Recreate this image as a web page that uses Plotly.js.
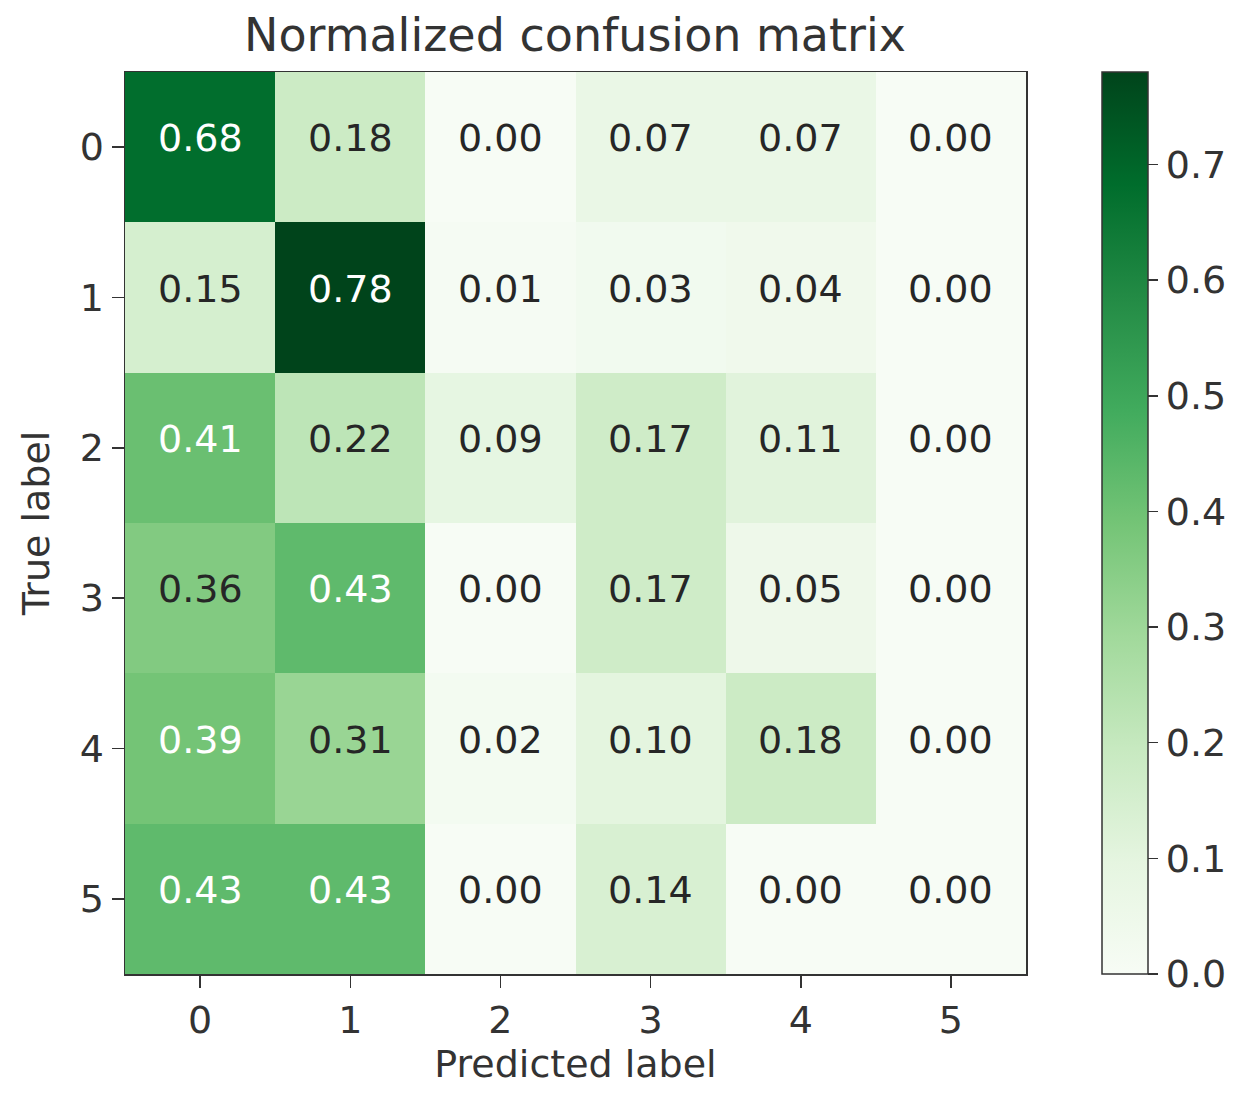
<!DOCTYPE html>
<html>
<head>
<meta charset="utf-8">
<script src="https://cdn.plot.ly/plotly-3.0.1.min.js"></script>
<style>html,body{margin:0;padding:0;background:#fff;}#chart{width:1249px;height:1095px;}</style>
</head>
<body>
<div id="chart"></div>
<script>
const predictedLabels = [0, 1, 2, 3, 4, 5];
const trueLabels = [0, 1, 2, 3, 4, 5];
const row0 = [0.68, 0.18, 0.00, 0.07, 0.07, 0.00];
const row1 = [0.15, 0.78, 0.01, 0.03, 0.04, 0.00];
const row2 = [0.41, 0.22, 0.09, 0.17, 0.11, 0.00];
const row3 = [0.36, 0.43, 0.00, 0.17, 0.05, 0.00];
const row4 = [0.39, 0.31, 0.02, 0.10, 0.18, 0.00];
const row5 = [0.43, 0.43, 0.00, 0.14, 0.00, 0.00];
const matrix = [row0, row1, row2, row3, row4, row5];
const colorbarTicks = [0.0, 0.1, 0.2, 0.3, 0.4, 0.5, 0.6, 0.7];

const greens = [
  [0.000, '#f7fcf5'], [0.125, '#e5f5e0'], [0.250, '#c7e9c0'],
  [0.375, '#a1d99b'], [0.500, '#74c476'], [0.625, '#41ab5d'],
  [0.750, '#238b45'], [0.875, '#006d2c'], [1.000, '#00441b']
];

const zmax = Math.max(...matrix.flat());

const annotations = [];
matrix.forEach((row, i) => {
  row.forEach((v, j) => {
    annotations.push({
      x: predictedLabels[j], y: trueLabels[i], xref: 'x', yref: 'y',
      text: v.toFixed(2), showarrow: false, yshift: 9,
      font: {family: 'DejaVu Sans', size: 38, color: v > 0.385 ? '#ffffff' : '#262626'}
    });
  });
});

const trace = {
  type: 'heatmap',
  x: predictedLabels, y: trueLabels, z: matrix,
  colorscale: greens, zmin: 0, zmax: zmax,
  hoverinfo: 'skip',
  colorbar: {
    x: (1102 - 125) / 901, xanchor: 'left', xpad: 0,
    y: 0.5, yanchor: 'middle', ypad: 0, len: 1, lenmode: 'fraction',
    thickness: 46, thicknessmode: 'pixels',
    outlinewidth: 1.5, outlinecolor: '#333',
    tickmode: 'array', tickvals: colorbarTicks,
    ticktext: colorbarTicks.map(t => t.toFixed(1)),
    ticks: 'outside', ticklen: 10, tickwidth: 1.5, tickcolor: '#333',
    tickfont: {family: 'DejaVu Sans', size: 38, color: '#333'}
  }
};

const layout = {
  width: 1249, height: 1095,
  margin: {l: 125, r: 223, t: 72, b: 121},
  paper_bgcolor: '#fff', plot_bgcolor: '#fff',
  title: {
    text: 'Normalized confusion matrix',
    font: {family: 'DejaVu Sans', size: 46, color: '#333'},
    x: 575 / 1249, xanchor: 'center', y: 1 - 35 / 1095, yanchor: 'middle'
  },
  xaxis: {
    tickmode: 'array', tickvals: predictedLabels, ticktext: predictedLabels.map(String),
    range: [-0.5, 5.5], showgrid: false, zeroline: false,
    showline: true, mirror: true, linecolor: '#333', linewidth: 1.5,
    ticks: 'outside', ticklen: 12, tickwidth: 1.5, tickcolor: '#333',
    tickfont: {family: 'DejaVu Sans', size: 38, color: '#333'},
    title: {text: 'Predicted label', font: {family: 'DejaVu Sans', size: 38, color: '#333'}, standoff: 8}
  },
  yaxis: {
    tickmode: 'array', tickvals: trueLabels, ticktext: trueLabels.map(String),
    range: [5.5, -0.5], showgrid: false, zeroline: false,
    showline: true, mirror: true, linecolor: '#333', linewidth: 1.5,
    ticks: 'outside', ticklen: 12, tickwidth: 1.5, tickcolor: '#333',
    tickfont: {family: 'DejaVu Sans', size: 38, color: '#333'},
    title: {text: 'True label', font: {family: 'DejaVu Sans', size: 38, color: '#333'}, standoff: 18}
  },
  annotations: annotations
};

Plotly.newPlot('chart', [trace], layout, {displayModeBar: false, staticPlot: true});
</script>
</body>
</html>
